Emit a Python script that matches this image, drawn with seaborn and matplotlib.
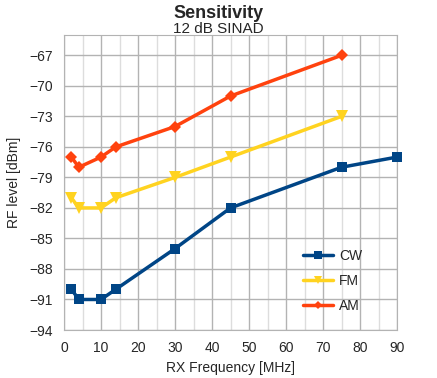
import matplotlib.pyplot as plt
import seaborn as sns
from matplotlib.ticker import MultipleLocator

# readings
freq = [2, 4, 10, 14, 30, 45, 75, 90]
cw = [-90, -91, -91, -90, -86, -82, -78, -77]
fm_freq = [2, 4, 10, 14, 30, 45, 75]
fm = [-81, -82, -82, -81, -79, -77, -73]
am_freq = [2, 4, 10, 14, 30, 45, 75]
am = [-77, -78, -77, -76, -74, -71, -67]

sns.set_style("white")
plt.rcParams['font.family'] = ['Liberation Sans', 'DejaVu Sans']

fig = plt.figure(figsize=(4.37, 3.78), dpi=100)
ax = fig.add_axes([64 / 437, 1 - 330 / 378, 333 / 437, 295 / 378])

series = [
    ('CW', freq, cw, '#004586', 's', 7),
    ('FM', fm_freq, fm, '#ffd320', 'v', 8),
    ('AM', am_freq, am, '#ff420e', 'D', 6),
]
for name, xs, ys, col, mk, ms in series:
    sns.lineplot(x=xs, y=ys, color=col, marker=mk, markersize=ms,
                 markeredgewidth=0, linewidth=2.5, label=name, ax=ax,
                 zorder=3, clip_on=False)

ax.set_xlim(0, 90)
ax.set_ylim(-94, -65)
ax.xaxis.set_major_locator(MultipleLocator(10))
ax.xaxis.set_minor_locator(MultipleLocator(5))
ax.set_yticks(range(-94, -66, 3))
ax.grid(True, which='major', color='#b3b3b3', linewidth=1)
ax.grid(True, which='minor', axis='x', color='#dddddd', linewidth=1)
for s in ax.spines.values():
    s.set_color('#b3b3b3')
ax.tick_params(which='major', length=3, width=1, color='#b3b3b3',
               labelsize=10, pad=5)
ax.tick_params(which='minor', length=0)

ax.set_xlabel('RX Frequency [MHz]', fontsize=10, labelpad=4)
ax.set_ylabel('RF level [dBm]', fontsize=10, labelpad=6)

fig.text(0.5, 1 - 14 / 378, 'Sensitivity', ha='center', va='center',
         fontsize=13, fontweight='bold')
fig.text(0.5, 1 - 29 / 378, '12 dB SINAD', ha='center', va='center', fontsize=11)

leg = ax.legend(loc='lower right', bbox_to_anchor=(0.912, 0.038),
                borderaxespad=0, frameon=False, fontsize=10,
                handlelength=2.2, handletextpad=0.4,
                labelspacing=0.8, markerscale=0.75)

fig.savefig('out.png', dpi=100)
